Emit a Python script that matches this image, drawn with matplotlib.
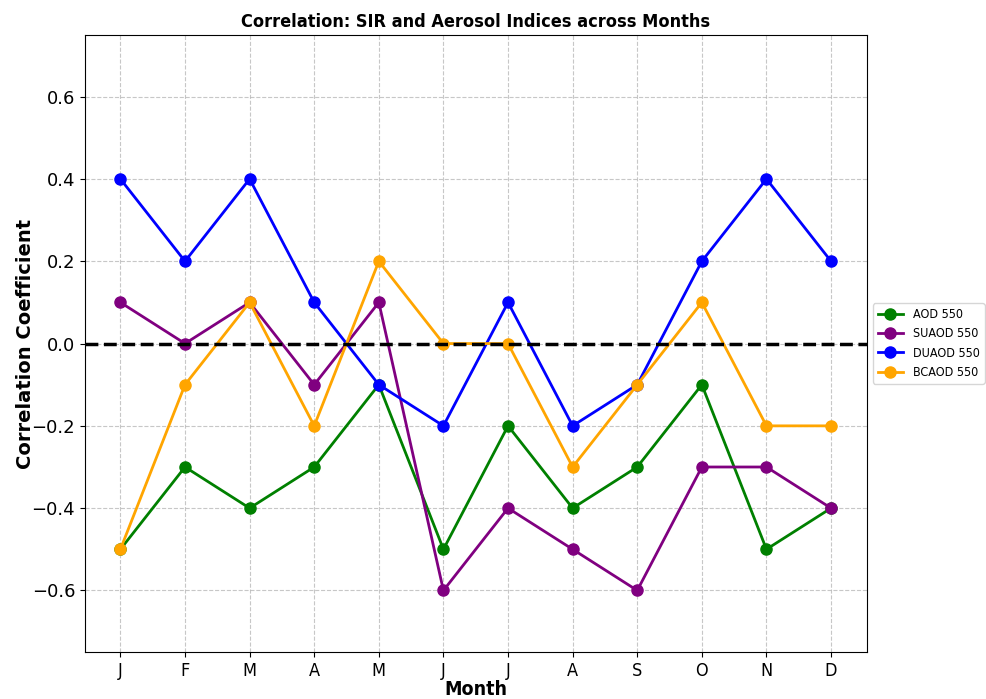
import numpy as np
import matplotlib
matplotlib.use('Agg')
import matplotlib.pyplot as plt

months = ['J', 'F', 'M', 'A', 'M', 'J', 'J', 'A', 'S', 'O', 'N', 'D']
aod = [-0.5, -0.3, -0.4, -0.3, -0.1, -0.5, -0.2, -0.4, -0.3, -0.1, -0.5, -0.4]
suaod = [0.1, 0.0, 0.1, -0.1, 0.1, -0.6, -0.4, -0.5, -0.6, -0.3, -0.3, -0.4]
duaod = [0.4, 0.2, 0.4, 0.1, -0.1, -0.2, 0.1, -0.2, -0.1, 0.2, 0.4, 0.2]
bcaod = [-0.5, -0.1, 0.1, -0.2, 0.2, 0.0, 0.0, -0.3, -0.1, 0.1, -0.2, -0.2]

x = np.arange(len(months))

fig, ax = plt.subplots(figsize=(9.87, 6.99), dpi=100)
fig.subplots_adjust(left=0.086, right=0.878, top=0.95, bottom=0.067)

ax.plot(x, aod, marker='o', color='green', linewidth=2, markersize=8, label='AOD 550')
ax.plot(x, suaod, marker='o', color='purple', linewidth=2, markersize=8, label='SUAOD 550')
ax.plot(x, duaod, marker='o', color='blue', linewidth=2, markersize=8, label='DUAOD 550')
ax.plot(x, bcaod, marker='o', color='orange', linewidth=2, markersize=8, label='BCAOD 550')

# zero reference line
ax.axhline(0, color='black', linestyle='--', linewidth=2.5)

ax.set_xticks(x)
ax.set_xticklabels(months, fontsize=13, fontstretch='condensed')
ax.tick_params(axis='y', labelsize=13)
ax.set_ylim(-0.75, 0.75)
ax.set_yticks([-0.6, -0.4, -0.2, 0.0, 0.2, 0.4, 0.6])
ax.grid(True, linestyle='--', alpha=0.7)

ax.set_title('Correlation: SIR and Aerosol Indices across Months', fontsize=13,
             fontweight='bold', fontstretch='condensed')
ax.set_xlabel('Month', fontsize=14, fontweight='bold', fontstretch='condensed', labelpad=0)
ax.set_ylabel('Correlation Coefficient', fontsize=14, fontweight='bold')
ax.yaxis.set_label_coords(-0.064, 0.5)

ax.legend(loc='center left', bbox_to_anchor=(1.0, 0.5),
          prop={'size': 9, 'stretch': 'condensed'})

fig.savefig('out.png', dpi=100)
